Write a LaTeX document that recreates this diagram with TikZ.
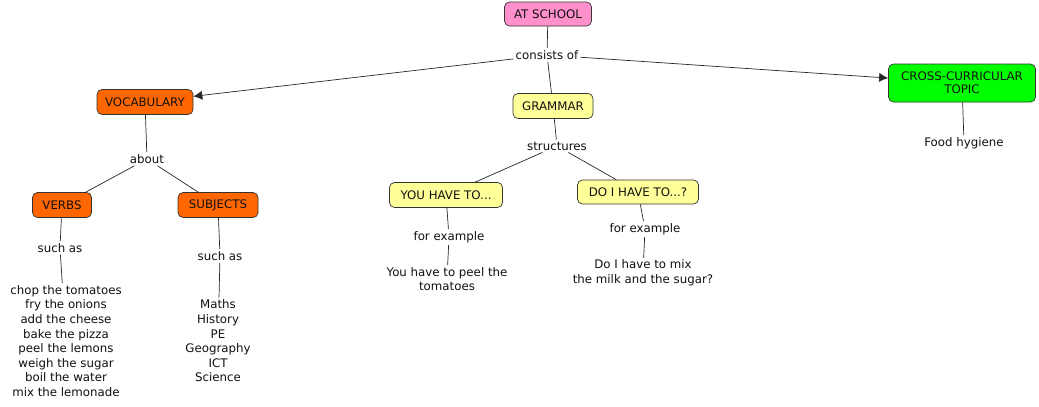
\documentclass[tikz,border=0pt]{standalone}
\usepackage{fontspec}
\setmainfont{DejaVu Sans}
\usetikzlibrary{arrows.meta}
\definecolor{cpink}{HTML}{FF90CC}
\definecolor{corange}{HTML}{FF6600}
\definecolor{cyellow}{HTML}{FFFF99}
\definecolor{cgreen}{HTML}{00FF00}
\definecolor{ctext}{HTML}{111111}
\begin{document}
\begin{tikzpicture}[x=1pt,y=-1pt,
  font=\fontsize{11.8}{14.6}\selectfont,
  concept/.style={draw=black!80,rounded corners=5pt,line width=0.7pt,inner sep=0pt,minimum height=24pt,text=ctext,align=center},
  lbl/.style={inner sep=2pt,fill=white,text=ctext,align=center},
  link/.style={draw=black!85,line width=0.7pt},
  arr/.style={link,-{Latex[length=9pt,width=9pt]}}]
\useasboundingbox (0,0) rectangle (1039,407);
\node[concept,fill=cpink,minimum width=87pt] (school) at (548,14) {AT SCHOOL};
\node[lbl] (consists) at (547,55) {consists of};
\node[concept,fill=corange,minimum width=96pt,minimum height=25pt] (vocab) at (145,102) {VOCABULARY};
\node[concept,fill=cyellow,minimum width=80pt,minimum height=25pt] (grammar) at (553,106) {GRAMMAR};
\node[concept,fill=cgreen,minimum width=147pt,minimum height=38pt] (cross) at (962,83) {CROSS-CURRICULAR\\[-2pt]TOPIC};
\node[lbl] (about) at (147,159) {about};
\node[concept,fill=corange,minimum width=59pt,minimum height=25pt] (verbs) at (62,205) {VERBS};
\node[concept,fill=corange,minimum width=80pt,minimum height=25pt] (subjects) at (218,205) {SUBJECTS};
\node[lbl] (suchasL) at (60,248) {such as};
\node[lbl] (suchasR) at (220,256) {such as};
\node[lbl] (verblist) at (66,341) {chop the tomatoes\\fry the onions\\add the cheese\\bake the pizza\\peel the lemons\\weigh the sugar\\boil the water\\mix the lemonade};
\node[lbl] (subjlist) at (218,341) {Maths\\History\\PE\\Geography\\ICT\\Science};
\node[lbl] (structures) at (557,146) {structures};
\node[concept,fill=cyellow,minimum width=113pt,minimum height=25pt] (youhave) at (446,195) {YOU HAVE TO...};
\node[concept,fill=cyellow,minimum width=121pt,minimum height=24pt] (doihave) at (638,192) {DO I HAVE TO...?};
\node[lbl] (forexL) at (449,237) {for example};
\node[lbl] (forexR) at (645,229) {for example};
\node[lbl] (exL) at (447,279) {You have to peel the\\tomatoes};
\node[lbl] (exR) at (643,273) {Do I have to mix\\the milk and the sugar?};
\node[lbl] (food) at (964,143) {Food hygiene};
\draw[link] (school) -- (consists);
\draw[arr] (consists) -- (vocab);
\draw[link] (consists) -- (grammar);
\draw[arr] (consists) -- (cross);
\draw[link] (vocab) -- (about);
\draw[link] (about) -- (verbs);
\draw[link] (about) -- (subjects);
\draw[link] (verbs) -- (suchasL);
\draw[link] (suchasL) -- (verblist);
\draw[link] (subjects) -- (suchasR);
\draw[link] (suchasR) -- (subjlist);
\draw[link] (grammar) -- (structures);
\draw[link] (structures) -- (youhave);
\draw[link] (structures) -- (doihave);
\draw[link] (youhave) -- (forexL);
\draw[link] (forexL) -- (exL);
\draw[link] (doihave) -- (forexR);
\draw[link] (forexR) -- (exR);
\draw[link] (cross) -- (food);
\end{tikzpicture}
\end{document}
